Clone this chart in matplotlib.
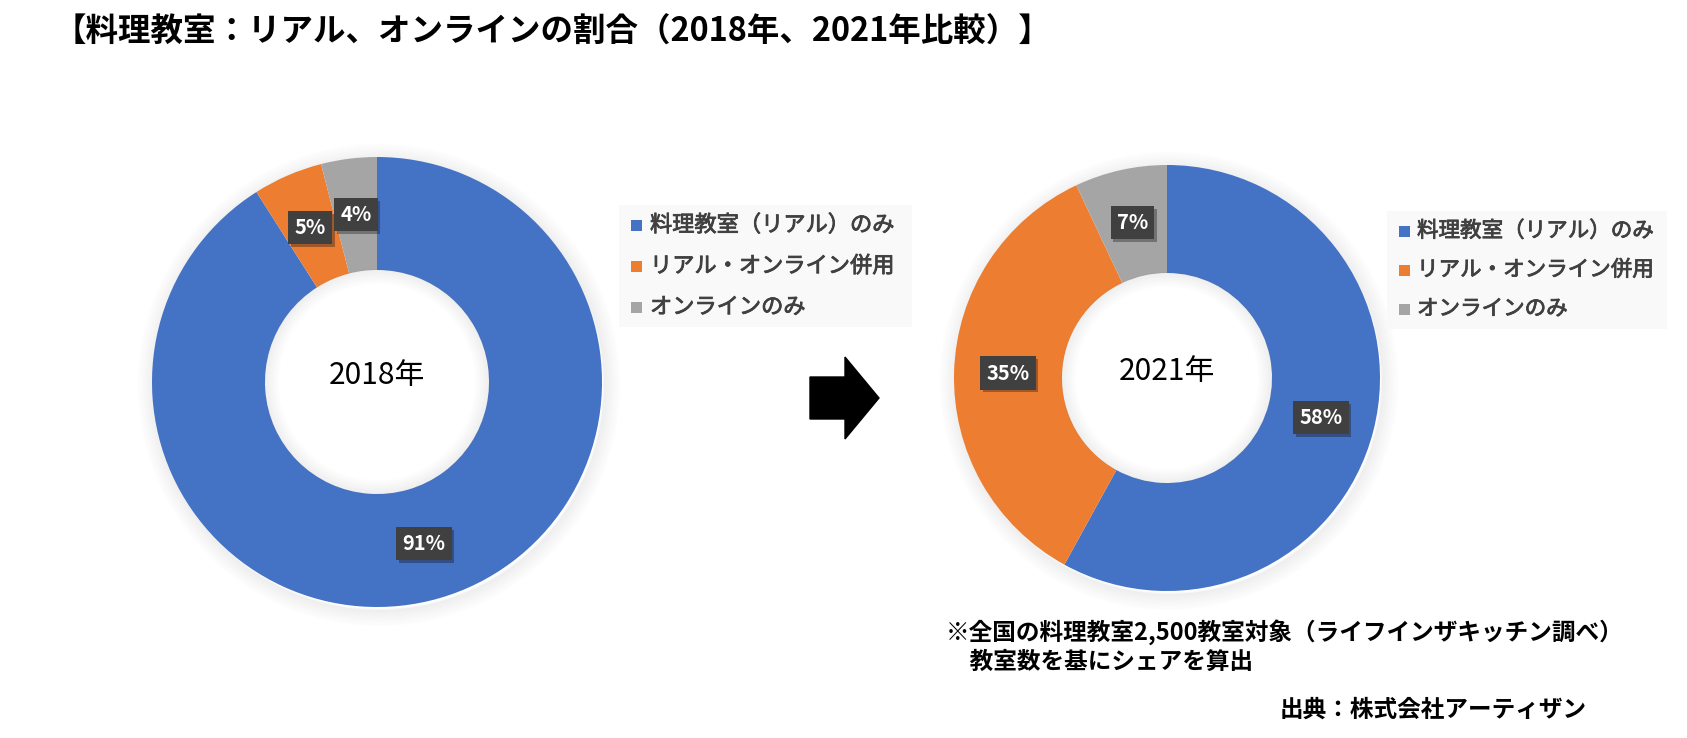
import matplotlib
matplotlib.use('Agg')
import matplotlib.pyplot as plt
import matplotlib.patches as mpatches
import matplotlib.patheffects as pe

plt.rcParams['font.family'] = ['Noto Sans CJK JP', 'DejaVu Sans']

# data
categories = ['料理教室（リアル）のみ', 'リアル・オンライン併用', 'オンラインのみ']
share_2018 = [91, 5, 4]
share_2021 = [58, 35, 7]
colors = ['#4472C4', '#ED7D31', '#A5A5A5']

title = '【料理教室：リアル、オンラインの割合（2018年、2021年比較）】'
note1 = '※全国の料理教室2,500教室対象（ライフインザキッチン調べ）'
note2 = '\u3000教室数を基にシェアを算出'
source = '出典：株式会社アーティザン'

W, H = 1687, 738
fig = plt.figure(figsize=(W / 100, H / 100), dpi=100)
ax = fig.add_axes([0, 0, 1, 1])
ax.set_xlim(0, W)
ax.set_ylim(0, H)
ax.set_aspect('equal')
ax.axis('off')


def donut(values, cx, cy, R, r, year):
    cy = H - cy
    # soft outer shadow
    for i in range(14):
        ax.add_patch(mpatches.Circle((cx + 2, cy - 3), R + i * 1.2, fill=False,
                                     edgecolor='#808080', lw=1.6,
                                     alpha=0.07 * (1 - i / 14), zorder=1))
    wedges, _, autotexts = ax.pie(values, colors=colors, center=(cx, cy), radius=R,
                                  startangle=90, counterclock=False,
                                  autopct='%d%%', pctdistance=(R + r) / 2 / R,
                                  wedgeprops=dict(width=R - r, linewidth=0),
                                  textprops=dict(color='white', fontsize=14.5,
                                                 fontweight='bold'))
    for w in wedges:
        w.set_zorder(2)
    # inner shadow of the hole
    for i in range(12):
        ax.add_patch(mpatches.Circle((cx, cy), r - i * 1.2, fill=False,
                                     edgecolor='#808080', lw=1.6,
                                     alpha=0.07 * (1 - i / 12), zorder=3))
    for t in autotexts:
        t.set_zorder(5)
        t.set_bbox(dict(boxstyle='square,pad=0.3', facecolor='#404040',
                        edgecolor='none'))
        t.get_bbox_patch().set_path_effects(
            [pe.SimplePatchShadow(offset=(2, -2), alpha=0.35), pe.Normal()])
    ax.text(cx, cy + 6, year, ha='center', va='center', fontsize=21.5,
            color='black', zorder=6)
    ax.set_xlim(0, W)
    ax.set_ylim(0, H)
    ax.set_aspect('equal')


def legend(x0, y0, x1, y1, rows, mx, tx, fs):
    ax.add_patch(mpatches.Rectangle((x0, H - y1), x1 - x0, y1 - y0,
                                    facecolor='#f9f9f9', edgecolor='none', zorder=4))
    for name, col, ry in zip(categories, colors, rows):
        ax.add_patch(mpatches.Rectangle((mx - 5.5, H - ry - 5.5), 11, 11,
                                        facecolor=col, edgecolor='none', zorder=5))
        ax.text(tx, H - ry, name, ha='left', va='center', fontsize=fs,
                color='#404040', zorder=5,
                path_effects=[pe.withStroke(linewidth=0.6, foreground='#404040')])


donut(share_2018, 377, 382, 225, 112, '2018年')
donut(share_2021, 1167, 378, 213, 105, '2021年')

legend(619, 205, 912, 327, [225, 266, 307], 637, 650, 16)
legend(1387, 211, 1667, 329, [231, 270, 309], 1405, 1417, 15.5)

# arrow
ax.add_patch(mpatches.FancyArrow(810, H - 398, 69, 0, width=42, head_width=82,
                                 head_length=34, length_includes_head=True,
                                 color='black', zorder=5))

ax.text(54, H - 32, title, ha='left', va='center', fontsize=23.4,
        fontweight='bold', color='black')
ax.text(946, H - 632, note1, ha='left', va='center', fontsize=17,
        fontweight='bold', color='black')
ax.text(946, H - 662, note2, ha='left', va='center', fontsize=17,
        fontweight='bold', color='black')
ax.text(1280, H - 710, source, ha='left', va='center', fontsize=17,
        fontweight='bold', color='black')

fig.savefig('out.png', dpi=100, facecolor='white')
